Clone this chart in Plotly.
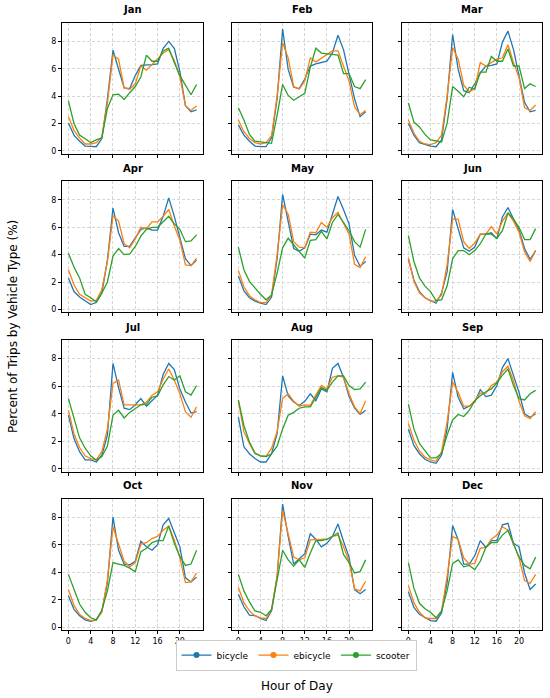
import plotly.graph_objects as go

# %%
hours = list(range(24))
months = ["Jan", "Feb", "Mar", "Apr", "May", "Jun",
          "Jul", "Aug", "Sep", "Oct", "Nov", "Dec"]
vehicle_types = ["bicycle", "ebicycle", "scooter"]
colors = ["#1f77b4", "#ff7f0e", "#2ca02c"]

# percent of trips per hour, one row per month
bicycle = [
    [2.04, 1.15, 0.7, 0.35, 0.33, 0.3, 0.9, 3.8, 7.35, 6.0, 4.6, 4.55, 5.5, 6.25, 6.25, 6.3, 6.35, 7.5, 8.0, 7.5, 5.8, 3.3, 2.85, 3.0],
    [1.9, 1.15, 0.7, 0.35, 0.3, 0.3, 0.95, 3.8, 8.9, 5.95, 4.65, 4.55, 5.25, 6.2, 6.35, 6.45, 6.55, 7.15, 8.45, 7.4, 5.6, 3.8, 2.5, 2.85],
    [2.0, 1.15, 0.6, 0.45, 0.35, 0.3, 0.8, 3.8, 8.5, 5.95, 4.4, 4.25, 4.9, 5.7, 6.2, 6.25, 6.35, 7.95, 8.75, 7.4, 5.35, 3.55, 2.85, 2.95],
    [2.3, 1.3, 0.9, 0.65, 0.35, 0.5, 1.2, 3.6, 7.4, 5.6, 4.6, 4.6, 5.25, 5.85, 5.95, 5.8, 5.8, 6.8, 8.15, 6.8, 5.25, 3.7, 3.2, 3.6],
    [2.45, 1.35, 0.85, 0.6, 0.45, 0.35, 0.9, 3.7, 8.4, 6.35, 4.45, 4.25, 4.5, 5.5, 5.45, 5.8, 5.65, 6.95, 8.25, 7.3, 6.25, 3.95, 3.15, 3.5],
    [3.7, 2.15, 1.3, 0.85, 0.65, 0.45, 1.2, 2.75, 7.3, 5.85, 4.5, 4.25, 4.55, 5.5, 5.5, 5.6, 5.15, 6.75, 7.45, 6.6, 5.8, 4.45, 3.65, 4.3],
    [3.9, 2.2, 1.25, 0.65, 0.65, 0.5, 1.0, 2.45, 7.65, 5.9, 4.4, 4.3, 4.65, 5.1, 4.55, 4.95, 5.35, 6.85, 7.65, 7.2, 5.8, 4.85, 4.05, 4.15],
    [3.75, 1.6, 1.1, 0.75, 0.5, 0.5, 1.1, 2.55, 6.75, 5.3, 4.85, 4.6, 4.9, 5.45, 4.95, 5.8, 5.6, 7.3, 7.65, 6.65, 5.25, 4.4, 3.95, 4.25],
    [2.9, 1.7, 1.1, 0.7, 0.5, 0.4, 1.0, 2.9, 7.0, 5.2, 4.35, 4.55, 4.85, 5.75, 5.25, 5.35, 6.05, 7.35, 8.0, 6.85, 5.55, 4.0, 3.75, 4.0],
    [2.3, 1.3, 0.85, 0.55, 0.45, 0.55, 1.2, 3.25, 8.0, 5.6, 4.6, 4.55, 4.8, 6.25, 5.85, 5.6, 6.0, 7.45, 7.9, 6.8, 5.85, 3.6, 3.3, 3.65],
    [2.4, 1.5, 0.9, 0.85, 0.65, 0.5, 1.2, 3.7, 8.95, 6.6, 4.6, 4.95, 5.35, 6.8, 6.4, 5.85, 6.1, 6.6, 7.5, 6.25, 5.1, 2.75, 2.45, 2.75],
    [2.6, 1.45, 0.95, 0.7, 0.5, 0.45, 1.05, 3.25, 7.4, 6.35, 4.6, 4.6, 5.2, 6.3, 5.8, 6.3, 6.3, 7.45, 7.55, 6.1, 5.85, 3.95, 2.75, 3.15],
]
ebicycle = [
    [2.5, 1.5, 0.95, 0.5, 0.5, 0.6, 1.0, 3.5, 7.0, 6.7, 4.6, 4.5, 4.9, 6.2, 5.9, 6.3, 6.7, 7.15, 7.4, 6.6, 5.4, 3.3, 2.95, 3.3],
    [2.25, 1.4, 0.9, 0.6, 0.5, 0.6, 1.1, 4.0, 7.9, 6.8, 4.7, 4.5, 5.1, 6.8, 6.5, 6.75, 7.0, 7.3, 7.3, 6.2, 5.1, 3.2, 2.65, 2.95],
    [2.25, 1.3, 0.7, 0.5, 0.45, 0.6, 1.15, 4.0, 7.55, 6.7, 4.8, 4.3, 4.55, 6.45, 6.2, 6.45, 6.7, 6.8, 7.75, 6.45, 5.35, 3.15, 2.95, 3.35],
    [2.9, 1.8, 1.1, 0.85, 0.6, 0.65, 1.45, 3.5, 6.85, 6.45, 4.8, 4.5, 5.15, 6.0, 5.9, 6.4, 6.4, 6.8, 7.3, 6.1, 5.05, 3.25, 3.2, 3.75],
    [2.85, 1.65, 1.0, 0.7, 0.5, 0.5, 1.05, 4.0, 7.65, 6.95, 4.95, 4.55, 4.5, 5.65, 5.6, 6.35, 6.0, 6.7, 7.1, 6.35, 5.5, 3.3, 3.05, 3.85],
    [3.75, 2.05, 1.2, 0.85, 0.6, 0.6, 1.05, 3.25, 6.6, 6.6, 4.95, 4.45, 4.85, 5.5, 5.5, 6.05, 5.5, 6.45, 7.05, 6.45, 5.65, 4.2, 3.5, 4.3],
    [4.25, 2.55, 1.55, 0.95, 0.75, 0.65, 1.25, 2.9, 6.2, 6.45, 4.65, 4.65, 4.65, 4.65, 4.85, 5.35, 5.6, 6.5, 7.25, 6.45, 5.45, 4.15, 3.75, 4.5],
    [4.95, 2.7, 1.85, 1.1, 0.95, 0.9, 1.5, 2.7, 5.1, 5.45, 4.9, 4.55, 4.65, 4.6, 5.35, 6.05, 5.8, 6.65, 6.75, 6.65, 5.45, 4.5, 4.0, 4.95],
    [3.3, 2.1, 1.3, 0.85, 0.65, 0.55, 1.25, 3.4, 6.3, 5.55, 4.55, 4.55, 4.95, 5.5, 5.5, 6.05, 6.3, 7.05, 7.45, 6.4, 4.9, 3.85, 3.65, 4.15],
    [2.75, 1.6, 0.95, 0.65, 0.5, 0.55, 1.1, 3.45, 7.3, 6.1, 4.8, 4.4, 4.7, 6.05, 6.15, 6.45, 6.6, 7.05, 7.35, 6.35, 5.05, 3.25, 3.3, 3.95],
    [2.9, 1.8, 1.2, 0.85, 0.7, 0.65, 1.3, 3.7, 8.5, 6.7, 5.1, 4.9, 5.05, 6.35, 6.35, 6.4, 6.4, 6.6, 6.7, 5.85, 4.8, 2.8, 2.65, 3.35],
    [3.05, 1.8, 1.1, 0.7, 0.65, 0.65, 1.2, 3.7, 6.6, 6.4, 5.05, 4.6, 4.65, 5.75, 5.8, 6.4, 6.7, 7.3, 7.05, 6.1, 5.05, 3.4, 3.2, 3.85],
]
scooter = [
    [3.65, 2.0, 1.15, 0.9, 0.6, 0.8, 0.95, 3.1, 4.1, 4.15, 3.75, 4.25, 4.7, 5.4, 7.0, 6.55, 6.55, 7.3, 7.5, 6.45, 5.5, 4.8, 4.1, 4.85],
    [3.15, 2.25, 1.2, 0.7, 0.65, 0.6, 0.55, 2.6, 4.85, 4.05, 3.7, 3.95, 4.2, 6.1, 7.5, 7.15, 7.1, 7.1, 7.0, 5.65, 5.65, 4.7, 4.55, 5.2],
    [3.5, 2.1, 1.75, 1.2, 0.8, 0.7, 0.65, 2.0, 4.7, 4.35, 3.95, 4.65, 4.5, 5.75, 5.75, 6.9, 6.55, 6.55, 7.45, 6.2, 6.2, 4.55, 4.9, 4.7],
    [4.1, 3.1, 2.3, 1.1, 0.85, 0.55, 1.2, 2.0, 3.9, 4.45, 4.0, 4.05, 4.6, 5.35, 5.85, 6.0, 6.0, 6.4, 6.8, 6.25, 5.85, 4.95, 5.0, 5.45],
    [4.55, 2.9, 2.05, 1.55, 1.1, 0.7, 1.05, 2.65, 4.5, 5.2, 4.7, 4.2, 3.75, 5.05, 5.1, 5.7, 5.15, 6.35, 6.95, 6.35, 5.75, 4.95, 4.55, 5.85],
    [5.4, 3.5, 2.3, 1.7, 1.3, 0.65, 0.7, 1.7, 3.7, 4.3, 4.3, 4.0, 4.3, 4.8, 5.5, 5.5, 5.2, 5.75, 7.05, 6.6, 6.0, 5.1, 5.1, 5.9],
    [5.1, 3.65, 2.25, 1.5, 0.95, 0.65, 0.9, 1.65, 3.9, 4.25, 3.7, 4.1, 4.4, 4.65, 4.7, 5.2, 5.3, 6.1, 6.7, 6.45, 6.75, 5.6, 5.35, 6.05],
    [5.0, 3.15, 1.95, 1.15, 0.95, 0.9, 1.1, 1.65, 2.9, 3.9, 4.1, 4.4, 4.5, 4.5, 5.2, 5.9, 5.7, 6.3, 6.75, 6.75, 6.05, 5.75, 5.8, 6.3],
    [4.7, 2.9, 1.85, 1.35, 0.8, 0.8, 1.1, 2.45, 3.55, 3.95, 3.8, 4.25, 4.95, 5.3, 5.6, 5.8, 6.25, 6.8, 7.25, 6.05, 5.1, 5.0, 5.45, 5.7],
    [3.85, 2.75, 1.7, 1.1, 0.7, 0.55, 1.25, 2.65, 4.7, 4.6, 4.5, 4.3, 4.05, 5.5, 5.75, 6.15, 6.3, 6.3, 7.35, 6.1, 5.15, 4.5, 4.6, 5.6],
    [3.85, 2.65, 1.85, 1.2, 1.1, 0.85, 1.3, 3.45, 5.6, 4.9, 4.45, 4.9, 4.35, 5.4, 6.3, 6.3, 6.4, 6.6, 6.85, 5.3, 4.7, 3.95, 4.05, 4.9],
    [4.7, 2.85, 1.75, 1.35, 1.1, 0.7, 1.2, 2.65, 4.65, 4.9, 4.4, 4.5, 4.2, 4.8, 5.8, 6.15, 6.15, 6.7, 7.05, 6.0, 5.1, 4.5, 4.25, 5.1],
]
series = [bicycle, ebicycle, scooter]

# panel boxes in pixels of the 550x698 page (left, right) and (top, bottom)
W, H = 550, 698
col_px = [(62, 203), (232, 372), (402, 542)]
row_px = [(23, 154), (182, 313), (341, 473), (500, 632)]

fig = go.Figure()
font = "DejaVu Sans"

for i, month in enumerate(months):
    r, c = divmod(i, 3)
    n = i + 1
    xa = "x" if n == 1 else "x%d" % n
    ya = "y" if n == 1 else "y%d" % n
    for k, name in enumerate(vehicle_types):
        fig.add_trace(go.Scatter(x=hours, y=series[k][i], mode="lines",
                                 line=dict(color=colors[k], width=1.3),
                                 name=name, showlegend=False,
                                 xaxis=xa, yaxis=ya))
    common = dict(showline=True, linecolor="black", linewidth=1, mirror=True,
                  ticks="outside", ticklen=3, tickcolor="black",
                  showgrid=True, gridcolor="#d6d6d6", griddash="3px,2px", gridwidth=0.8,
                  zeroline=False, tickfont=dict(size=8, color="black", family=font))
    x0, x1 = col_px[c]
    y0, y1 = row_px[r]
    fig.layout["xaxis" if n == 1 else "xaxis%d" % n] = dict(
        common, domain=[x0 / W, x1 / W], anchor=ya, range=[-1.15, 24.15],
        tickvals=[0, 4, 8, 12, 16, 20], showticklabels=(r == 3))
    fig.layout["yaxis" if n == 1 else "yaxis%d" % n] = dict(
        common, domain=[1 - y1 / H, 1 - y0 / H], anchor=xa, range=[-0.2, 9.35],
        tickvals=[0, 2, 4, 6, 8], showticklabels=(c == 0))
    # bold month title above each panel
    fig.add_annotation(text="<b>%s</b>" % month, x=(x0 + x1) / 2 / W, y=1 - (y0 - 13) / H,
                       xref="paper", yref="paper", xanchor="center", yanchor="middle",
                       showarrow=False, font=dict(size=10, color="black", family=font))

# legend entries with line + circle marker
for k, name in enumerate(vehicle_types):
    fig.add_trace(go.Scatter(x=[None], y=[None], mode="lines+markers", name=name,
                             line=dict(color=colors[k], width=1.3),
                             marker=dict(color=colors[k], size=6)))

fig.add_annotation(text="Hour of Day", x=297 / W, y=1 - 688 / H, xref="paper", yref="paper",
                   xanchor="center", yanchor="middle", showarrow=False,
                   font=dict(size=12, color="black", family=font))
fig.add_annotation(text="Percent of Trips by Vehicle Type (%)", x=13 / W, y=1 - 328 / H,
                   xref="paper", yref="paper", xanchor="center", yanchor="middle",
                   textangle=-90, showarrow=False,
                   font=dict(size=12, color="black", family=font))

fig.update_layout(width=W, height=H, margin=dict(l=0, r=0, t=0, b=0),
                  paper_bgcolor="white", plot_bgcolor="white",
                  font=dict(family=font, color="black"),
                  legend=dict(orientation="h", x=296 / W, y=1 - 657 / H,
                              xanchor="center", yanchor="middle",
                              bordercolor="#cccccc", borderwidth=1,
                              font=dict(size=9, family=font), itemwidth=30))

# drop the default page margin so the figure sits at the window's corner
fig.write_html("out.html", config={"displayModeBar": False},
               post_script="document.body.style.margin='0px';")
